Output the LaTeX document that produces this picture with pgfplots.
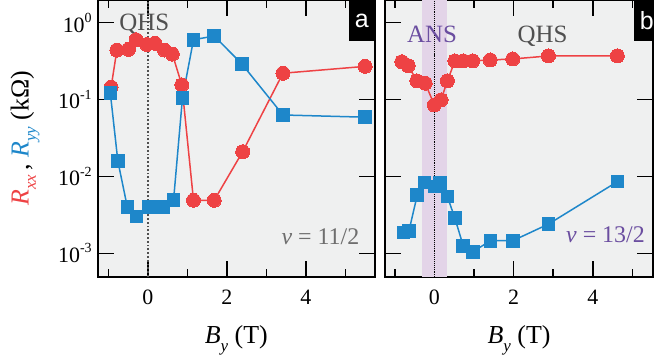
\documentclass[border=0pt]{standalone}
\usepackage{pgfplots}
\pgfplotsset{compat=1.18}
\usepackage{fontspec}
\setmainfont{Liberation Serif}
\newfontfamily\serf{Liberation Serif}
\newfontfamily\sansf{Liberation Sans}
\definecolor{bg}{RGB}{239,240,240}
\definecolor{myred}{RGB}{238,66,68}
\definecolor{myblue}{RGB}{30,135,202}
\definecolor{mypurple}{RGB}{107,78,160}
\definecolor{band}{RGB}{227,212,232}
\definecolor{qgray}{RGB}{80,80,80}
\definecolor{ngray}{RGB}{110,110,110}
\newcommand\tp[1]{10\raisebox{0.45em}{\fontsize{14}{14}\selectfont #1}}
\newcommand\sbs[1]{\raisebox{-0.28em}{\fontsize{17}{17}\selectfont\itshape #1}}
\pgfplotsset{
 rline/.style={myred, line width=1.5bp, mark=*, mark size=7bp, mark options={fill=myred, draw=myred, line width=0pt}},
 bline/.style={myblue, line width=1.5bp, mark=square*, mark size=6.3bp, mark options={fill=myblue, draw=myblue, line width=0pt}},
}
\begin{document}
\serf
\begin{tikzpicture}[font=\serf]
\begin{axis}[scale only axis, at={(97.7bp,-276.7bp)}, anchor=south west,
  width=277.3bp, height=276.7bp,
  ymode=log, ymin=4.97e-4, ymax=1.97,
  xmin=-1.27, xmax=5.75,
  ytick={1e-3,1e-2,1e-1,1},
  yminorticks=false,
  xtick={0,2,4}, xticklabels={0,2,4},
  minor xtick={-1,1,3,5},
  tick align=inside,
  tick pos=both,
  major tick length=16bp, minor tick length=8bp,
  every tick/.style={black, line width=1.6bp},
  axis line style={line width=2bp},
  axis background/.style={fill=bg},
  tick label style={font=\serf\fontsize{22}{26}\selectfont},
  xticklabel style={yshift=-10bp},
  xlabel={\textit{B}\sbs{y} (T)},
  xlabel style={at={(axis description cs:0.5,-0.243)}, anchor=base, font=\serf\fontsize{26}{30}\selectfont},
  clip=false,
  yticklabels={\tp{-3},\tp{-2},\tp{-1},\tp{0}},
  yticklabel style={xshift=-2.5bp},
  ylabel={\textcolor{myred}{\textit{R}\sbs{xx}}\,, \textcolor{myblue}{\textit{R}\sbs{yy}} (k\symbol{"03A9})},
  ylabel style={at={(axis description cs:-0.262,0.5)}, anchor=center, font=\serf\fontsize{26}{30}\selectfont},
]
\addplot[qgray, dotted, line width=1.8bp, forget plot] coordinates {(0,4.97e-4) (0,1.97)};
\addplot[rline] coordinates {(-0.93,0.145) (-0.785,0.44) (-0.49,0.45) (-0.30,0.60) (-0.03,0.52) (0.18,0.54) (0.42,0.44) (0.62,0.39) (0.86,0.155) (1.155,0.0049) (1.68,0.0049) (2.40,0.021) (3.42,0.22) (5.50,0.27)};
\addplot[bline] coordinates {(-0.95,0.121) (-0.76,0.0159) (-0.52,0.0040) (-0.29,0.0030) (0.02,0.0040) (0.18,0.0040) (0.40,0.0040) (0.65,0.0049) (0.875,0.104) (1.155,0.60) (1.68,0.67) (2.38,0.29) (3.42,0.063) (5.50,0.059)};
\node[qgray, anchor=base, font=\serf\fontsize{25}{30}\selectfont] at (axis cs:-0.09,0.80) {QHS};
\node[ngray, anchor=base east, font=\serf\fontsize{24}{28}\selectfont] at (axis cs:5.44,0.00129) {\textit{\symbol{"03BD}} = 11/2};
\node[fill=black, text=white, anchor=north east, minimum width=26bp, minimum height=41bp, inner sep=0pt, font=\sansf\fontsize{25}{25}\selectfont] at (rel axis cs:1,1) {a};
\end{axis}
\begin{axis}[scale only axis, at={(385bp,-276.7bp)}, anchor=south west,
  width=268bp, height=276.7bp,
  ymode=log, ymin=4.97e-4, ymax=1.97,
  xmin=-1.245, xmax=5.52,
  ytick={1e-3,1e-2,1e-1,1},
  yminorticks=false,
  xtick={0,2,4}, xticklabels={0,2,4},
  minor xtick={-1,1,3,5},
  tick align=inside,
  tick pos=both,
  major tick length=16bp, minor tick length=8bp,
  every tick/.style={black, line width=1.6bp},
  axis line style={line width=2bp},
  axis background/.style={fill=bg},
  tick label style={font=\serf\fontsize{22}{26}\selectfont},
  xticklabel style={yshift=-10bp},
  xlabel={\textit{B}\sbs{y} (T)},
  xlabel style={at={(axis description cs:0.5,-0.243)}, anchor=base, font=\serf\fontsize{26}{30}\selectfont},
  clip=false,
  yticklabels={},
]
\addplot[draw=none, fill=band, forget plot] coordinates {(-0.30,4.97e-4) (-0.30,1.97) (0.31,1.97) (0.31,4.97e-4)} -- cycle;
\addplot[black, densely dotted, line width=1.1bp, forget plot] coordinates {(0,4.97e-4) (0,1.97)};
\addplot[rline] coordinates {(-0.82,0.31) (-0.66,0.276) (-0.44,0.175) (-0.23,0.163) (0.0,0.085) (0.17,0.099) (0.33,0.175) (0.52,0.318) (0.73,0.318) (0.97,0.318) (1.41,0.327) (1.98,0.337) (2.88,0.369) (4.62,0.37)};
\addplot[bline] coordinates {(-0.78,0.00186) (-0.64,0.00196) (-0.43,0.00575) (-0.25,0.0083) (0.0,0.00736) (0.14,0.0082) (0.33,0.00546) (0.52,0.00286) (0.73,0.00125) (0.97,0.00105) (1.42,0.00146) (1.98,0.00146) (2.88,0.0024) (4.62,0.00855)};
\node[mypurple, anchor=base, font=\serf\fontsize{25}{30}\selectfont] at (axis cs:-0.06,0.545) {ANS};
\node[qgray, anchor=base, font=\serf\fontsize{25}{30}\selectfont] at (axis cs:2.73,0.545) {QHS};
\node[mypurple, anchor=base east, font=\serf\fontsize{24}{28}\selectfont] at (axis cs:5.40,0.00138) {\textit{\symbol{"03BD}} = 13/2};
\node[fill=black, text=white, anchor=north east, minimum width=26bp, minimum height=41bp, inner sep=0pt, font=\sansf\fontsize{25}{25}\selectfont, xshift=7bp] at (rel axis cs:1,1) {b};
\end{axis}
\pgfresetboundingbox
\path (0,0) rectangle (654bp,-358bp);
\end{tikzpicture}
\end{document}
